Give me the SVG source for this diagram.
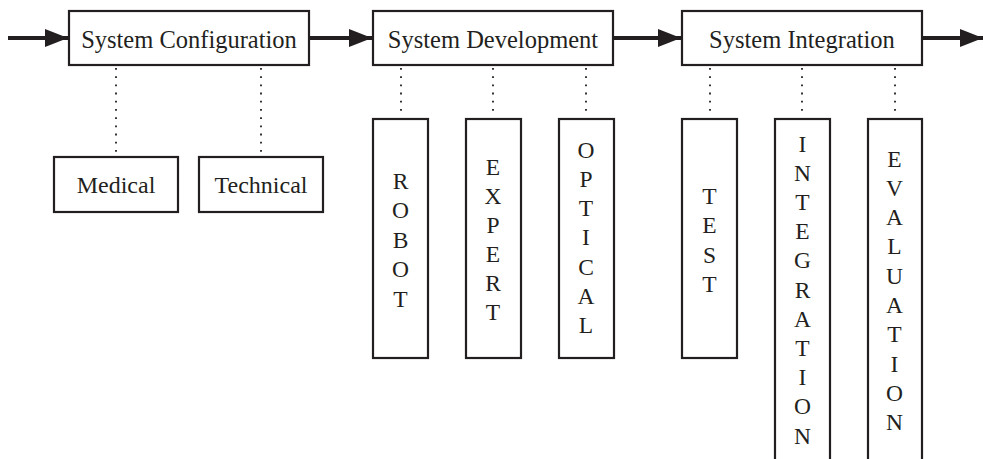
<svg xmlns="http://www.w3.org/2000/svg" width="983" height="459" viewBox="0 0 983 459">
<style>
.box{fill:#fff;stroke:#231f20;stroke-width:2.2}
.t{font-family:"Liberation Serif","Times New Roman",serif;font-size:24.5px;fill:#231f20;text-anchor:middle}
.s{font-family:"Liberation Serif","Times New Roman",serif;font-size:24px;fill:#231f20;text-anchor:middle}
.v{font-family:"Liberation Serif","Times New Roman",serif;font-size:23.5px;fill:#231f20;text-anchor:middle}
.arr{stroke:#231f20;stroke-width:4;fill:none}
.dot{stroke:#231f20;stroke-width:1.8;stroke-dasharray:1.8 6.4;fill:none}
</style>
<defs>
<marker id="ah" markerUnits="userSpaceOnUse" markerWidth="24" markerHeight="20" refX="23" refY="10" orient="auto">
<polygon points="0,1 23,10 0,19" fill="#231f20"/>
</marker>
</defs>
<rect width="983" height="459" fill="#fff"/>
<g id="connectors">
<line class="arr" x1="8" y1="38" x2="68" y2="38" marker-end="url(#ah)"/>
<line class="arr" x1="309" y1="38" x2="372" y2="38" marker-end="url(#ah)"/>
<line class="arr" x1="614" y1="38" x2="681" y2="38" marker-end="url(#ah)"/>
<line class="arr" x1="923" y1="38" x2="983" y2="38" marker-end="url(#ah)"/>
<line class="dot" x1="116" y1="68" x2="116" y2="156"/>
<line class="dot" x1="261" y1="68" x2="261" y2="156"/>
<line class="dot" x1="401" y1="68" x2="401" y2="117"/>
<line class="dot" x1="493" y1="68" x2="493" y2="117"/>
<line class="dot" x1="586" y1="68" x2="586" y2="117"/>
<line class="dot" x1="710" y1="68" x2="710" y2="117"/>
<line class="dot" x1="802" y1="68" x2="802" y2="117"/>
<line class="dot" x1="895" y1="68" x2="895" y2="117"/>
</g>
<g id="config">
<rect class="box" x="69" y="11" width="240" height="54"/>
<text class="t" x="189" y="47.5">System Configuration</text>
</g>
<g id="development">
<rect class="box" x="373" y="11" width="240" height="54"/>
<text class="t" x="493" y="47.5">System Development</text>
</g>
<g id="integration">
<rect class="box" x="682" y="11" width="240" height="54"/>
<text class="t" x="802" y="47.5">System Integration</text>
</g>
<g id="medical">
<rect class="box" x="54" y="157" width="124" height="55"/>
<text class="s" x="116" y="192.5">Medical</text>
</g>
<g id="technical">
<rect class="box" x="199" y="157" width="124" height="55"/>
<text class="s" x="261" y="192.5">Technical</text>
</g>
<g id="robot">
<rect class="box" x="373" y="119" width="55" height="239"/>
<text class="v" x="400.5" y="188.5"><tspan x="400.5">R</tspan><tspan x="400.5" dy="29.5">O</tspan><tspan x="400.5" dy="29.5">B</tspan><tspan x="400.5" dy="29.5">O</tspan><tspan x="400.5" dy="29.5">T</tspan></text>
</g>
<g id="expert">
<rect class="box" x="466" y="119" width="55" height="239"/>
<text class="v" x="493" y="175"><tspan x="493">E</tspan><tspan x="493" dy="29">X</tspan><tspan x="493" dy="29">P</tspan><tspan x="493" dy="29">E</tspan><tspan x="493" dy="29">R</tspan><tspan x="493" dy="29">T</tspan></text>
</g>
<g id="optical">
<rect class="box" x="559" y="119" width="55" height="239"/>
<text class="v" x="586" y="157.5"><tspan x="586">O</tspan><tspan x="586" dy="29.3">P</tspan><tspan x="586" dy="29.3">T</tspan><tspan x="586" dy="29.3">I</tspan><tspan x="586" dy="29.3">C</tspan><tspan x="586" dy="29.3">A</tspan><tspan x="586" dy="29.3">L</tspan></text>
</g>
<g id="test">
<rect class="box" x="682" y="119" width="55" height="239"/>
<text class="v" x="709.5" y="203.5"><tspan x="709.5">T</tspan><tspan x="709.5" dy="29.5">E</tspan><tspan x="709.5" dy="29.5">S</tspan><tspan x="709.5" dy="29.5">T</tspan></text>
</g>
<g id="integration-box">
<rect class="box" x="775" y="119" width="55" height="360"/>
<text class="v" x="802.5" y="151.5"><tspan x="802.5">I</tspan><tspan x="802.5" dy="29.2">N</tspan><tspan x="802.5" dy="29.2">T</tspan><tspan x="802.5" dy="29.2">E</tspan><tspan x="802.5" dy="29.2">G</tspan><tspan x="802.5" dy="29.2">R</tspan><tspan x="802.5" dy="29.2">A</tspan><tspan x="802.5" dy="29.2">T</tspan><tspan x="802.5" dy="29.2">I</tspan><tspan x="802.5" dy="29.2">O</tspan><tspan x="802.5" dy="29.2">N</tspan></text>
</g>
<g id="evaluation">
<rect class="box" x="868" y="119" width="54" height="360"/>
<text class="v" x="894.5" y="166.5"><tspan x="894.5">E</tspan><tspan x="894.5" dy="29.3">V</tspan><tspan x="894.5" dy="29.3">A</tspan><tspan x="894.5" dy="29.3">L</tspan><tspan x="894.5" dy="29.3">U</tspan><tspan x="894.5" dy="29.3">A</tspan><tspan x="894.5" dy="29.3">T</tspan><tspan x="894.5" dy="29.3">I</tspan><tspan x="894.5" dy="29.3">O</tspan><tspan x="894.5" dy="29.3">N</tspan></text>
</g>
</svg>
